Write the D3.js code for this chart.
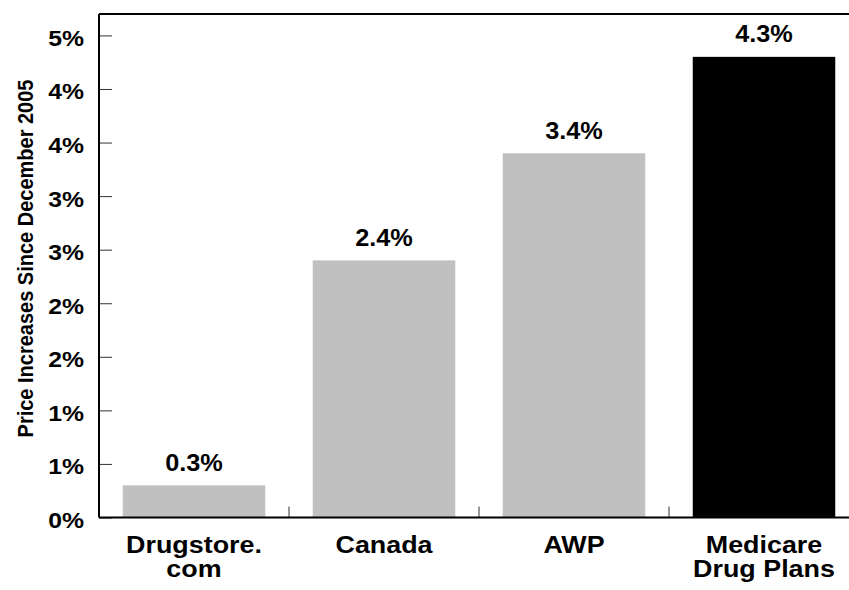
<!DOCTYPE html>
<html>
<head>
<meta charset="utf-8">
<script src="https://cdn.jsdelivr.net/npm/d3@7"></script>
<style>
  html, body { margin: 0; padding: 0; background: #fff; }
  svg { display: block; }
  text { font-family: "Liberation Sans", Arial, sans-serif; font-weight: bold; fill: #000; }
</style>
</head>
<body>
<svg id="chart" width="849" height="590"></svg>
<script>
// ---- data ----
const categories = [["Drugstore.", "com"], ["Canada"], ["AWP"], ["Medicare", "Drug Plans"]];
const values = [0.3, 2.4, 3.4, 4.3];
const valueLabels = ["0.3%", "2.4%", "3.4%", "4.3%"];
const barColors = ["#c0c0c0", "#c0c0c0", "#c0c0c0", "#000000"];
const yTickValues = [0, 0.5, 1, 1.5, 2, 2.5, 3, 3.5, 4, 4.5];
const yTickLabels = ["0%", "1%", "1%", "2%", "2%", "3%", "3%", "4%", "4%", "5%"];
const yTitle = "Price Increases Since December 2005";
const yMax = 4.7;

// ---- layout ----
const svg = d3.select("#chart");
const plotL = 99, plotR = 859, plotT = 14, plotB = 517.5;
const SX = 1.1;

const keys = categories.map(c => c.join(" "));
const x = d3.scaleBand().domain(keys).range([plotL, plotR]).paddingInner(0.25).paddingOuter(0.125);
const y = d3.scaleLinear().domain([0, yMax]).range([plotB, plotT]);

// bars
svg.append("g").selectAll("rect").data(values).join("rect")
  .attr("x", (d, i) => x(keys[i]))
  .attr("y", d => y(d))
  .attr("width", x.bandwidth())
  .attr("height", d => y(0) - y(d))
  .attr("fill", (d, i) => barColors[i]);

// value labels
svg.append("g").selectAll("text").data(values).join("text")
  .attr("transform", (d, i) => `translate(${x(keys[i]) + x.bandwidth() / 2},${y(d) - 14.5}) scale(${SX},1)`)
  .attr("text-anchor", "middle")
  .style("font-size", "23px")
  .text((d, i) => valueLabels[i]);

// frame top line
svg.append("line").attr("x1", plotL).attr("x2", plotR).attr("y1", y(yMax)).attr("y2", y(yMax))
  .attr("stroke", "#000").attr("stroke-width", 2);

// y axis
const yAxis = d3.axisLeft(y).tickValues(yTickValues)
  .tickFormat((d, i) => yTickLabels[i]).tickSize(-13).tickPadding(15);
const gy = svg.append("g").attr("transform", `translate(${plotL},0)`).call(yAxis);
gy.select(".domain").remove();
gy.selectAll(".tick line").attr("stroke", "#333").attr("stroke-width", 1);
gy.selectAll(".tick text")
  .attr("x", null).attr("dy", null)
  .attr("transform", `translate(-15,10) scale(${SX},1)`)
  .style("font-size", "22.5px")
  .style("font-family", "Liberation Sans, Arial, sans-serif")
  .style("font-weight", "bold")
  .attr("fill", "#000");

// category boundary ticks
const bounds = d3.range(1, keys.length).map(i => x.range()[0] + i * x.step());
svg.append("g").selectAll("line").data(bounds).join("line")
  .attr("x1", d => d).attr("x2", d => d)
  .attr("y1", plotB - 11).attr("y2", plotB)
  .attr("stroke", "#333").attr("stroke-width", 1);

// axis lines
svg.append("line").attr("x1", plotL).attr("x2", plotL).attr("y1", y(yMax)).attr("y2", plotB)
  .attr("stroke", "#000").attr("stroke-width", 2);
svg.append("line").attr("x1", plotL).attr("x2", plotR).attr("y1", plotB).attr("y2", plotB)
  .attr("stroke", "#000").attr("stroke-width", 2);

// category labels
const cat = svg.append("g").selectAll("g").data(categories).join("g")
  .attr("transform", (d, i) => `translate(${x(keys[i]) + x.bandwidth() / 2},0)`);
cat.selectAll("text").data(d => d).join("text")
  .attr("transform", (d, j) => `translate(0,${553 + j * 24}) scale(1.12,1)`)
  .attr("text-anchor", "middle")
  .style("font-size", "24px")
  .text(d => d);

// y title
svg.append("text")
  .attr("transform", `translate(33,${(79 + 438) / 2}) scale(${SX},1) rotate(-90)`)
  .attr("text-anchor", "middle")
  .style("font-size", "20px")
  .text(yTitle);
</script>
</body>
</html>
